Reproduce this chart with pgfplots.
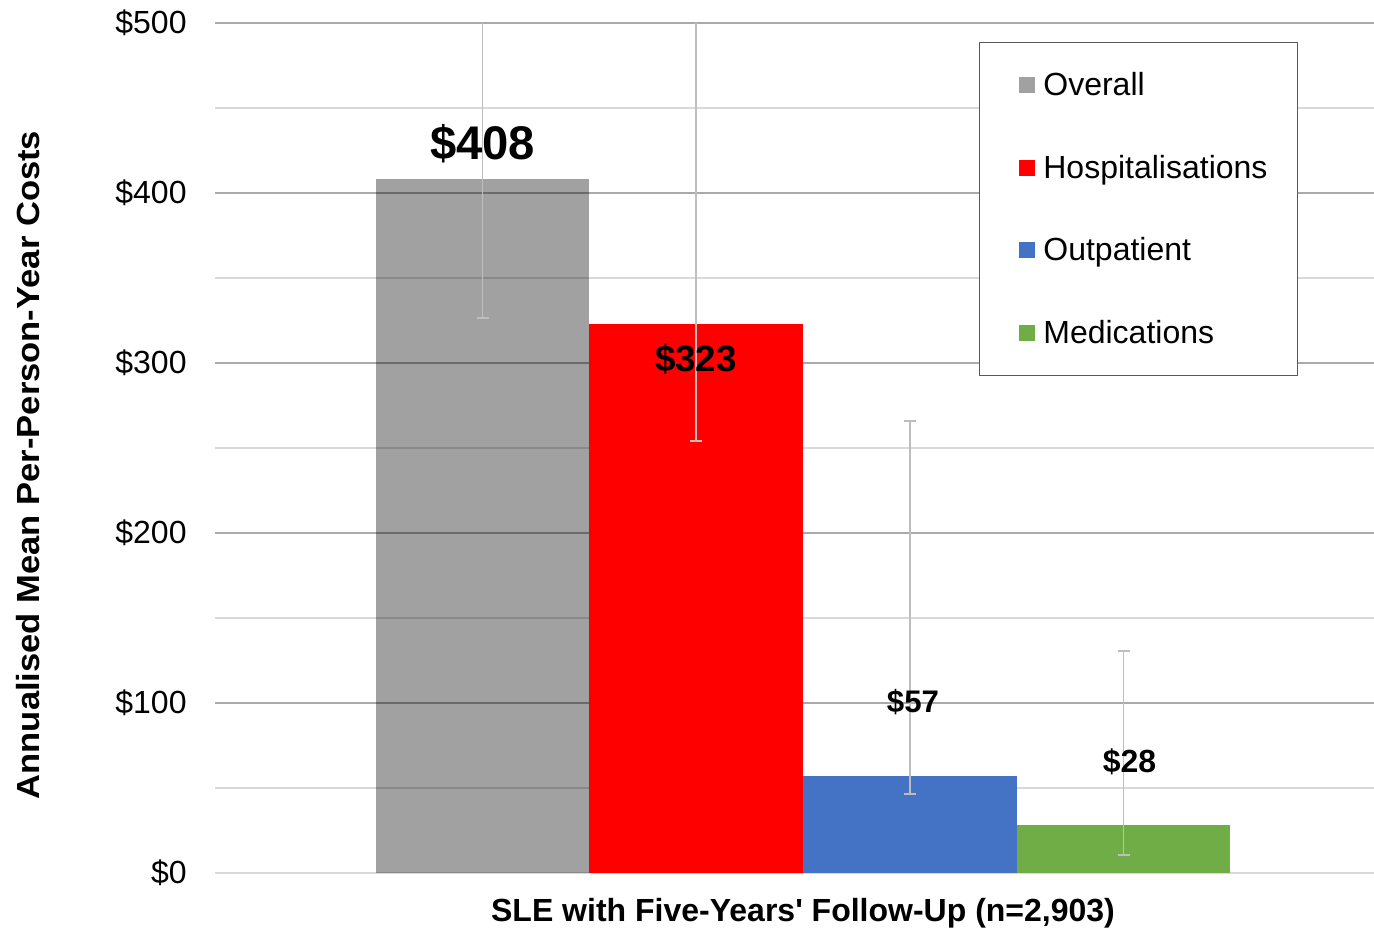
\documentclass[border=0pt]{standalone}
\usepackage{pgfplots}
\pgfplotsset{compat=1.18}
\usepackage{fontspec}
\setmainfont{Liberation Sans}
\newfontfamily\stretchfont[FakeStretch=1.08]{Liberation Sans}
\definecolor{cRed}{RGB}{255,0,0}
\definecolor{cBlue}{RGB}{68,114,196}
\definecolor{cGreen}{RGB}{112,173,71}
\definecolor{majgrid}{RGB}{170,170,170}
\definecolor{mingrid}{RGB}{217,217,217}
\definecolor{errc}{RGB}{190,190,190}
\newcommand{\catlabel}{SLE with Five-Years\textquotesingle\ Follow-Up (n=2,903)}
\begin{document}
\begin{tikzpicture}
\useasboundingbox (-107.5pt,-29.5pt) rectangle (579.5pt,436.5pt);
\begin{axis}[
  scale only axis, width=579.5pt, height=425pt,
  at={(0pt,0pt)}, anchor=south west,
  xmin=-588, xmax=571, ymin=0, ymax=500,
  axis x line=bottom, axis y line=left,
  x axis line style={-, draw=mingrid, line width=1pt},
  y axis line style={draw=none},
  major tick length=0pt, minor tick length=0pt,
  ytick={0,100,200,300,400,500},
  minor ytick={50,150,250,350,450},
  ymajorgrids, yminorgrids,
  major grid style={draw=majgrid, line width=1pt},
  minor grid style={draw=mingrid, line width=1pt},
  /pgf/number format/assume math mode=true,
  yticklabel={\$\pgfmathprintnumber{\tick}},
  yticklabel style={font=\fontsize{16}{19}\selectfont, anchor=east, inner sep=0pt, xshift=-14pt},
  xtick={0},
  xticklabel={\catlabel},
  xticklabel style={font=\fontsize{16}{19}\selectfont\bfseries, anchor=base, inner sep=0pt, yshift=-24pt},
  ylabel={Annualised Mean Per-Person-Year Costs},
  every axis y label/.style={at={(axis description cs:-0.16135,0.48)}, rotate=90, anchor=center, font=\stretchfont\fontsize{16}{19}\selectfont\bfseries},
  legend style={at={(axis description cs:0.659,0.978)}, anchor=north west,
    draw=black!65, line width=0.6pt, fill=white,
    inner xsep=15pt, inner ysep=15pt, row sep=28.9pt, column sep=4pt,
    font=\fontsize{16}{19}\selectfont,
    nodes={inner sep=0pt, text height=11.5pt, text depth=1pt}},
  legend cell align=left,
  legend image code/.code={\path (0pt,0pt); \fill[#1] (5pt,-4pt) rectangle (13pt,4pt);},
  nodes near coords={\$\pgfmathprintnumber[fixed,precision=0]{\pgfplotspointmeta}},
  point meta=y,
  myerr/.style={error bars/.cd, y dir=both, y explicit,
    error bar style={line width=0.8pt, draw=errc, draw opacity=1},
    error mark options={line width=0.8pt, draw=errc, draw opacity=1, mark size=3pt, rotate=90}},
]
\addplot[ybar, bar width=213.5, bar shift=0pt, fill=black, fill opacity=0.37, draw=none,
  every node near coord/.append style={text opacity=1, fill opacity=1, anchor=base, yshift=10pt, font=\fontsize{23.6}{28}\selectfont\bfseries},
  myerr]
  coordinates {(-320.5,408) += (0,150) -= (0,81.5)};
\addlegendentry{Overall}
\addplot[ybar, bar width=213.5, bar shift=0pt, fill=cRed, draw=none,
  every node near coord/.append style={anchor=base, yshift=-23.9pt, font=\fontsize{18.4}{22}\selectfont\bfseries},
  myerr]
  coordinates {(-107,323) += (0,250) -= (0,69)};
\addlegendentry{Hospitalisations}
\addplot[ybar, bar width=213.5, bar shift=0pt, fill=cBlue, draw=none,
  every node near coord/.append style={anchor=base, yshift=31.7pt, xshift=1.5pt, font=\fontsize{15.6}{19}\selectfont\bfseries},
  myerr]
  coordinates {(107,57) += (0,209) -= (0,10.4)};
\addlegendentry{Outpatient}
\addplot[ybar, bar width=213.5, bar shift=0pt, fill=cGreen, draw=none,
  every node near coord/.append style={anchor=base, yshift=26.3pt, xshift=3pt, font=\fontsize{16}{19}\selectfont\bfseries},
  myerr]
  coordinates {(320.5,28) += (0,102.7) -= (0,17.4)};
\addlegendentry{Medications}
\end{axis}
\end{tikzpicture}
\end{document}
